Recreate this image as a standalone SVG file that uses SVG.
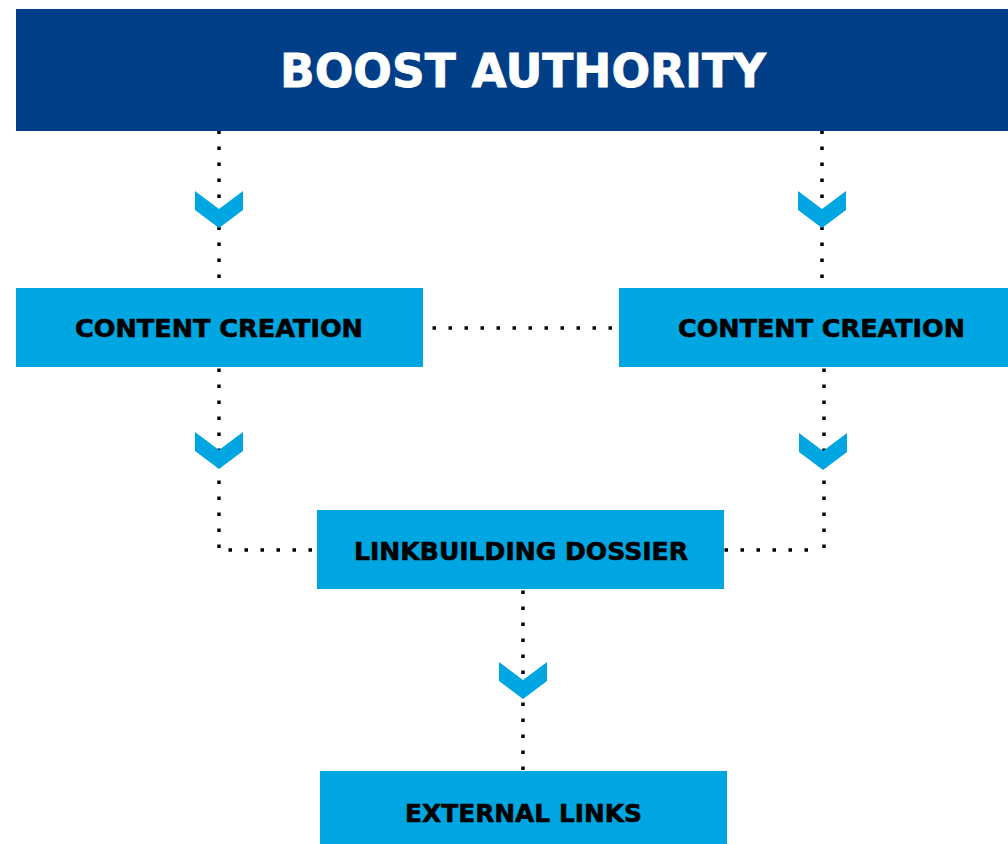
<svg xmlns="http://www.w3.org/2000/svg" xmlns:xlink="http://www.w3.org/1999/xlink" width="1008" height="844" viewBox="0 0 1008 844">
<style>
.box{fill:#00a6e1}
.head{fill:#003f88}
.lbl{font-family:"DejaVu Sans",sans-serif;font-weight:bold;font-size:25px;fill:#000;stroke:#000;stroke-width:0.6;text-anchor:middle}
.title{font-family:"DejaVu Sans",sans-serif;font-weight:bold;font-size:47px;fill:#fff;stroke:#fff;stroke-width:0.8;text-anchor:middle}
.dot{stroke:#000;stroke-width:3.5;stroke-dasharray:3.5 12.5;fill:none}
.chev{fill:#00a6e1}
</style>
<defs>
<path id="chev" d="M-24 0 L0 18 L24 0 L24 19 L0 37 L-24 19 Z"/>
</defs>
<rect width="1008" height="844" fill="#fff"/>
<g id="connectors">
<line class="dot" x1="219" y1="130.5" x2="219" y2="290"/>
<line class="dot" x1="822" y1="130.5" x2="822" y2="290"/>
<line class="dot" x1="432.5" y1="328" x2="618" y2="328"/>
<line class="dot" x1="219" y1="368.5" x2="219" y2="549"/>
<line class="dot" x1="228.5" y1="550" x2="318" y2="550"/>
<line class="dot" x1="824" y1="368.5" x2="824" y2="549"/>
<line class="dot" x1="724.5" y1="550" x2="810" y2="550"/>
<line class="dot" x1="523" y1="590.5" x2="523" y2="772"/>
<use href="#chev" class="chev" transform="translate(219,191)"/>
<use href="#chev" class="chev" transform="translate(822,191)"/>
<use href="#chev" class="chev" transform="translate(219,432)"/>
<use href="#chev" class="chev" transform="translate(823,433)"/>
<use href="#chev" class="chev" transform="translate(523,662)"/>
</g>
<g id="boost-authority">
<rect class="head" x="16" y="9" width="992" height="122"/>
<text class="title" x="523" y="87" textLength="486" lengthAdjust="spacingAndGlyphs">BOOST AUTHORITY</text>
</g>
<g id="content-creation-left">
<rect class="box" x="16" y="288" width="407" height="79"/>
<text class="lbl" x="219" y="337" textLength="288" lengthAdjust="spacingAndGlyphs">CONTENT CREATION</text>
</g>
<g id="content-creation-right">
<rect class="box" x="619" y="288" width="389" height="79"/>
<text class="lbl" x="821.5" y="337" textLength="287" lengthAdjust="spacingAndGlyphs">CONTENT CREATION</text>
</g>
<g id="linkbuilding-dossier">
<rect class="box" x="317" y="510" width="407" height="79"/>
<text class="lbl" x="521" y="560" textLength="334" lengthAdjust="spacingAndGlyphs">LINKBUILDING DOSSIER</text>
</g>
<g id="external-links">
<rect class="box" x="320" y="771" width="407" height="73"/>
<text class="lbl" x="523.5" y="822" textLength="237" lengthAdjust="spacingAndGlyphs">EXTERNAL LINKS</text>
</g>
</svg>
